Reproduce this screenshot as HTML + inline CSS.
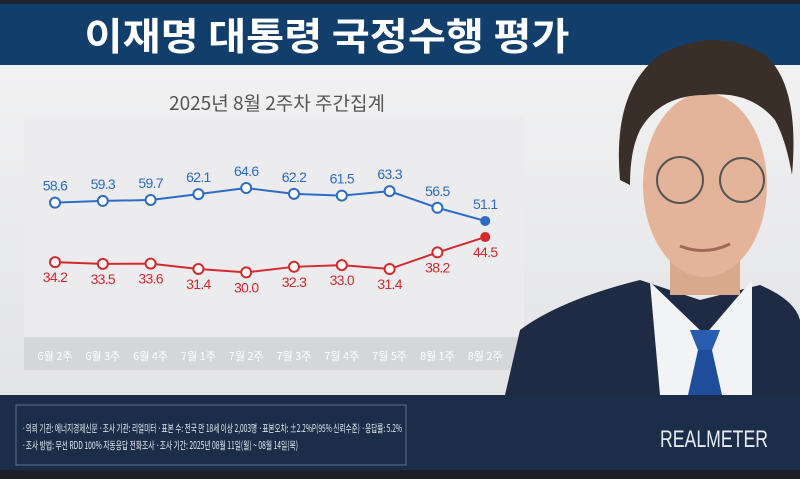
<!DOCTYPE html>
<html><head><meta charset="utf-8"><style>
body{margin:0;width:800px;height:479px;overflow:hidden;background:#e9e9eb;font-family:"Liberation Sans","Noto Sans CJK KR",sans-serif}
#root{position:relative;width:800px;height:479px}
</style></head><body>
<div id="root">
<svg width="800" height="479" viewBox="0 0 800 479" xmlns="http://www.w3.org/2000/svg" style="position:absolute;left:0;top:0">
<defs><linearGradient id="bg" x1="0" x2="0" y1="0" y2="1"><stop offset="0" stop-color="#f4f4f5"/><stop offset="1" stop-color="#dfe0e2"/></linearGradient></defs>
<rect x="0" y="0" width="800" height="479" fill="url(#bg)"/>
<rect x="0" y="0" width="800" height="4" fill="#1e2530"/>
<rect x="0" y="4" width="800" height="61" fill="#123e6c"/>
<text x="327" y="50" text-anchor="middle" font-size="38" font-weight="bold" fill="#fff" font-family="'Noto Sans CJK KR',sans-serif" textLength="485" lengthAdjust="spacingAndGlyphs">이재명 대통령 국정수행 평가</text>
<text x="277" y="110" text-anchor="middle" font-size="19" fill="#555" font-family="'Noto Sans CJK KR',sans-serif">2025년 8월 2주차 주간집계</text>
<rect x="24" y="116" width="500" height="221" fill="#ececee"/>
<rect x="24" y="337" width="500" height="33" fill="#d5d6d8"/>
<g id="chart"></g>
<g>
<path d="M505 395 L520 330 Q560 300 640 280 L700 300 L760 285 Q795 300 800 320 L800 395 Z" fill="#1f2a44"/>
<path d="M650 282 L705 335 L752 280 L752 395 L660 395 Z" fill="#f2f3f5"/>
<path d="M690 330 L720 330 L712 350 L722 395 L688 395 L698 350 Z" fill="#1e4d9c"/>
<path d="M690 330 L720 330 L712 350 L698 350 Z" fill="#2a5cb0"/>
<rect x="670" y="245" width="70" height="50" fill="#d9a98d"/>
<ellipse cx="705" cy="185" rx="62" ry="92" fill="#e3b49a"/>
<path d="M620 180 Q612 90 660 55 Q715 25 765 55 Q800 85 792 175 Q786 140 775 120 Q750 90 705 95 Q660 95 640 130 Q630 150 630 185 Z" fill="#3a2e28"/>
<circle cx="680" cy="180" r="23" fill="none" stroke="#555" stroke-width="2"/>
<circle cx="742" cy="180" r="22" fill="none" stroke="#555" stroke-width="2"/>
<path d="M680 246 Q705 256 730 244" stroke="#a3675a" stroke-width="3" fill="none"/>
</g>
<rect x="0" y="395" width="800" height="75" fill="#1b2d48"/>
<rect x="0" y="470" width="800" height="9" fill="#1c1f26"/>
<rect x="16" y="405" width="390" height="60" fill="none" stroke="#5f7088" stroke-width="1"/>
<text x="22" y="432" font-size="10.5" fill="#e8ecf2" font-family="'Noto Sans CJK KR',sans-serif" textLength="380" lengthAdjust="spacingAndGlyphs">·의뢰 기관: 에너지경제신문 ·조사 기관: 리얼미터 ·표본 수: 전국 만 18세 이상 2,003명 ·표본오차: ±2.2%P(95% 신뢰수준) ·응답률: 5.2%</text>
<text x="22" y="449" font-size="10.5" fill="#e8ecf2" font-family="'Noto Sans CJK KR',sans-serif" textLength="276" lengthAdjust="spacingAndGlyphs">·조사 방법: 무선 RDD 100% 자동응답 전화조사 ·조사 기간: 2025년 08월 11일(월) ~ 08월 14일(목)</text>
<text x="714" y="447" text-anchor="middle" font-size="24" fill="#e8ecf2" textLength="108" lengthAdjust="spacingAndGlyphs">REALMETER</text>
</svg>
<script>
const categories=["6월 2주","6월 3주","6월 4주","7월 1주","7월 2주","7월 3주","7월 4주","7월 5주","8월 1주","8월 2주"];
const approve=[58.6,59.3,59.7,62.1,64.6,62.2,61.5,63.3,56.5,51.1];
const disapprove=[34.2,33.5,33.6,31.4,30.0,32.3,33.0,31.4,38.2,44.5];
const NS="http://www.w3.org/2000/svg";
const g=document.getElementById('chart');
const xs=i=>55+i*47.8;
const ys=v=>188+(64.6-v)*2.44;
function mk(t,a){const e=document.createElementNS(NS,t);for(const k in a)e.setAttribute(k,a[k]);g.appendChild(e);return e;}
categories.forEach((c,i)=>{const t=mk('text',{x:xs(i),y:360,'text-anchor':'middle','font-size':11,fill:'#fff','font-family':"'Noto Sans CJK KR',sans-serif"});t.textContent=c;

});
function series(vals,color,above,name){
 const p=mk('polyline',{points:vals.map((v,i)=>xs(i)+','+ys(v)).join(' '),fill:'none',stroke:color,'stroke-width':2});
 
 
 vals.forEach((v,i)=>{const last=i===vals.length-1;
  const c=mk('circle',{cx:xs(i),cy:ys(v),r:5,fill:last?color:'#fff',stroke:color,'stroke-width':last?0:2});
  
  
  let ty=above?ys(v)-12:ys(v)+20;
  const t=mk('text',{x:xs(i),y:ty,'text-anchor':'middle','font-size':14,fill:color,'letter-spacing':'-0.7'});
  t.textContent=v.toFixed(1);
  
  });
}
series(approve,'#2d6bc4',true,'approve');
series(disapprove,'#d42a2e',false,'disapprove');
</script>
</div>
</body></html>
